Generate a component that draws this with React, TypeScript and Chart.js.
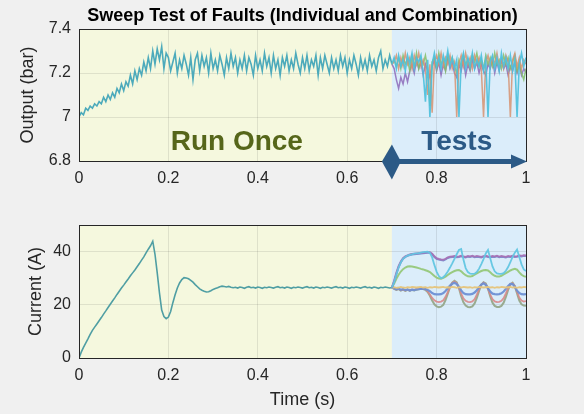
import React, { useEffect, useRef } from "react";
import { Chart, registerables } from "chart.js";
Chart.register(...registerables);

const TITLE = "Sweep Test of Faults (Individual and Combination)";
const X_LABEL = "Time (s)";
const TOP_Y_LABEL = "Output (bar)";
const BOTTOM_Y_LABEL = "Current (A)";
const RUN_ONCE_LABEL = "Run Once";
const TESTS_LABEL = "Tests";
const X_TICKS = [0, 0.2, 0.4, 0.6, 0.8, 1];
const TOP_Y_TICKS = [6.8, 7, 7.2, 7.4];
const BOTTOM_Y_TICKS = [0, 20, 40];
const SPLIT_TIME = 0.7;
const DT = 0.005;

// Output pressure, shared run from t = 0 to 0.7 s
const outputRunOnce = [
  7.00, 7.02, 7.01, 7.04, 7.03, 7.05, 7.04, 7.06, 7.05, 7.07, 7.06, 7.09, 7.07, 7.10, 7.08, 7.11, 7.09, 7.13, 7.11, 7.15,
  7.12, 7.16, 7.14, 7.19, 7.15, 7.21, 7.17, 7.22, 7.19, 7.25, 7.21, 7.27, 7.22, 7.30, 7.24, 7.31, 7.26, 7.32, 7.22, 7.29,
  7.27, 7.21, 7.25, 7.29, 7.20, 7.26, 7.22, 7.28, 7.24, 7.19, 7.27, 7.17, 7.26, 7.29, 7.21, 7.28, 7.23, 7.27, 7.20, 7.29,
  7.22, 7.26, 7.21, 7.28, 7.24, 7.19, 7.27, 7.22, 7.29, 7.23, 7.27, 7.20, 7.26, 7.22, 7.28, 7.21, 7.27, 7.24, 7.19, 7.28,
  7.22, 7.26, 7.21, 7.29, 7.23, 7.27, 7.20, 7.28, 7.22, 7.26, 7.19, 7.27, 7.23, 7.28, 7.21, 7.26, 7.22, 7.29, 7.24, 7.20,
  7.27, 7.22, 7.28, 7.21, 7.26, 7.23, 7.28, 7.19, 7.27, 7.22, 7.28, 7.24, 7.20, 7.27, 7.22, 7.26, 7.21, 7.28, 7.23, 7.27,
  7.20, 7.26, 7.22, 7.28, 7.24, 7.19, 7.27, 7.22, 7.26, 7.21, 7.28, 7.23, 7.26, 7.21, 7.27, 7.30, 7.22, 7.26, 7.23, 7.28,
  7.24,
];
// Output pressure during the fault tests, t = 0.705 .. 1.0 s
const outputTestCyan = [
  7.27, 7.22, 7.28, 7.23, 7.26, 7.21, 7.28, 7.24, 7.29, 7.22, 7.27, 7.25, 7.28, 7.20, 7.07, 7.26, 7.00, 7.24, 7.29, 7.23,
  7.27, 7.22, 7.28, 7.24, 7.30, 7.23, 7.27, 7.22, 7.26, 7.00, 7.25, 7.29, 7.22, 7.27, 7.23, 7.29, 7.22, 7.26, 7.23, 7.28,
  7.21, 7.26, 7.00, 7.25, 7.28, 7.22, 7.27, 7.21, 7.29, 7.23, 7.27, 7.22, 7.28, 7.21, 7.26, 7.00, 7.24, 7.29, 7.23, 7.27,
];
const outputTestOrange = [
  7.25, 7.28, 7.22, 7.27, 7.23, 7.29, 7.24, 7.27, 7.22, 7.28, 7.24, 7.29, 7.23, 7.26, 7.22, 7.10, 7.24, 7.02, 7.25, 7.28,
  7.24, 7.29, 7.23, 7.27, 7.24, 7.28, 7.22, 7.25, 7.00, 7.24, 7.28, 7.23, 7.29, 7.24, 7.27, 7.22, 7.28, 7.24, 7.27, 7.22,
  7.00, 7.25, 7.28, 7.23, 7.27, 7.24, 7.29, 7.23, 7.26, 7.22, 7.28, 7.25, 7.00, 7.26, 7.29, 7.23, 7.27, 7.22, 7.26, 7.24,
];
const outputTestPurple = [
  7.22, 7.17, 7.13, 7.18, 7.15, 7.20, 7.16, 7.21, 7.24, 7.20, 7.26, 7.22, 7.25, 7.19, 7.24, 7.21, 7.18, 7.23, 7.26, 7.21,
  7.25, 7.19, 7.24, 7.21, 7.27, 7.22, 7.25, 7.20, 7.18, 7.24, 7.21, 7.26, 7.19, 7.24, 7.21, 7.26, 7.22, 7.25, 7.20, 7.24,
  7.21, 7.19, 7.24, 7.22, 7.26, 7.20, 7.25, 7.21, 7.26, 7.22, 7.24, 7.19, 7.23, 7.21, 7.25, 7.20, 7.24, 7.19, 7.22, 7.20,
];
const outputTestGreen = [
  7.26, 7.23, 7.27, 7.22, 7.28, 7.24, 7.26, 7.21, 7.27, 7.23, 7.29, 7.22, 7.26, 7.24, 7.28, 7.22, 7.05, 7.25, 7.27, 7.22,
  7.29, 7.24, 7.26, 7.21, 7.28, 7.24, 7.27, 7.23, 7.20, 7.26, 7.23, 7.28, 7.24, 7.26, 7.22, 7.28, 7.25, 7.29, 7.23, 7.26,
  7.22, 7.28, 7.24, 7.27, 7.23, 7.29, 7.24, 7.26, 7.22, 7.28, 7.24, 7.27, 7.22, 7.25, 7.28, 7.21, 7.25, 7.20, 7.17, 7.22,
];

// Current, shared run from t = 0 to 0.7 s
const currentRunOnce = [
  0, 2.2, 4.0, 5.6, 7.2, 8.9, 10.4, 11.6, 12.8, 14.0, 15.2, 16.5, 17.7, 19.0, 20.2, 21.4, 22.6, 23.9, 25.1, 26.3,
  27.4, 28.6, 29.7, 30.9, 32.0, 33.1, 34.3, 35.5, 36.8, 38.0, 39.5, 40.9, 42.2, 43.9, 39.0, 32.0, 24.5, 18.0, 15.6, 14.8,
  15.4, 17.5, 20.8, 23.8, 26.3, 28.2, 29.5, 30.2, 30.1, 29.8, 29.2, 28.5, 27.6, 26.8, 26.0, 25.5, 25.1, 24.8, 24.9, 25.3,
  25.8, 26.1, 26.4, 26.8, 27.0, 26.9, 26.7, 26.9, 26.6, 26.4, 26.6, 26.3, 26.7, 26.5, 26.2, 26.6, 26.8, 26.4, 26.6, 26.3,
  26.7, 26.5, 26.2, 26.6, 26.4, 26.7, 26.5, 26.3, 26.6, 26.8, 26.4, 26.6, 26.3, 26.7, 26.5, 26.2, 26.6, 26.4, 26.7, 26.5,
  26.3, 26.6, 26.8, 26.4, 26.6, 26.3, 26.7, 26.5, 26.2, 26.6, 26.4, 26.7, 26.5, 26.3, 26.6, 26.8, 26.4, 26.6, 26.3, 26.7,
  26.5, 26.2, 26.6, 26.4, 26.7, 26.5, 26.3, 26.6, 26.8, 26.4, 26.6, 26.3, 26.7, 26.5, 26.2, 26.6, 26.4, 26.7, 26.5, 26.3,
  26.5,
];
// Current during the fault tests, t = 0.705 .. 1.0 s
const currentTestPurple = [
  29.0, 32.0, 34.5, 36.3, 37.5, 38.2, 38.6, 38.9, 39.1, 39.2, 39.3, 39.4, 39.5, 39.6, 39.7, 39.8, 39.8, 39.2, 38.2, 37.5,
  37.2, 37.0, 36.9, 37.3, 37.8, 38.1, 38.2, 38.3, 38.1, 38.2, 38.4, 38.2, 38.0, 38.3, 38.2, 38.4, 38.1, 38.3, 38.2, 38.0,
  38.3, 38.4, 38.2, 38.1, 38.3, 38.2, 38.4, 38.1, 38.3, 38.2, 38.0, 38.3, 38.2, 38.4, 38.2, 38.3, 38.5, 38.4, 38.6, 38.5,
];
const currentTestBlueHigh = [
  28.7, 31.6, 34.2, 36.0, 37.3, 38.0, 38.4, 38.7, 38.9, 39.0, 39.1, 39.2, 39.3, 39.4, 39.5, 39.6, 39.6, 39.0, 38.0, 37.3,
  37.0, 36.8, 36.7, 37.1, 37.6, 37.9, 38.0, 38.1, 37.9, 38.0, 38.2, 38.0, 37.8, 38.1, 38.0, 38.2, 37.9, 38.1, 38.0, 37.8,
  38.1, 38.2, 38.0, 37.9, 38.1, 38.0, 38.2, 37.9, 38.1, 38.0, 37.8, 38.1, 38.0, 38.2, 38.0, 38.1, 38.3, 38.2, 38.4, 38.3,
];
const currentTestCyan = [
  28.5, 31.5, 34.0, 36.0, 37.3, 38.0, 38.5, 38.8, 39.0, 39.2, 39.3, 39.4, 39.6, 39.8, 39.9, 40.0, 39.5, 37.8, 35.0, 32.5,
  30.8, 30.0, 30.4, 31.3, 32.5, 34.0, 35.6, 37.3, 39.0, 40.6, 41.0, 37.0, 33.8, 32.3, 31.7, 31.6, 31.7, 32.3, 33.6, 35.3,
  37.2, 39.3, 40.6, 37.5, 34.4, 32.6, 31.8, 31.6, 31.6, 31.9, 32.8, 34.2, 36.0, 38.0, 39.6, 40.8, 38.0, 35.2, 33.3, 32.7,
];
const currentTestGreen = [
  28.0, 29.8, 31.3, 32.5, 33.4, 34.0, 34.4, 34.5, 34.4, 34.2, 34.0, 33.8, 33.5, 33.3, 33.0, 32.7, 32.3, 31.6, 30.8, 30.2,
  29.9, 29.8, 30.1, 30.6, 31.2, 31.8, 32.3, 32.7, 33.0, 33.1, 32.6, 31.8, 31.1, 30.7, 30.6, 30.8, 31.3, 31.8, 32.3, 32.7,
  33.0, 33.1, 32.9, 32.2, 31.4, 30.9, 30.6, 30.6, 30.9, 31.4, 31.9, 32.4, 32.9, 33.3, 33.5, 33.2, 32.2, 31.3, 30.8, 30.5,
];
const currentTestYellow = [
  26.6, 26.4, 26.5, 26.7, 26.5, 26.4, 26.6, 26.5, 26.7, 26.6, 26.5, 26.6, 26.7, 26.5, 26.6, 26.4, 26.6, 26.5, 26.7, 26.6,
  26.5, 26.6, 26.7, 26.5, 26.6, 26.5, 26.7, 26.6, 26.4, 26.6, 26.5, 26.7, 26.6, 26.5, 26.6, 26.4, 26.6, 26.5, 26.7, 26.6,
  26.5, 26.6, 26.7, 26.5, 26.6, 26.4, 26.6, 26.5, 26.7, 26.6, 26.5, 26.6, 26.7, 26.5, 26.6, 26.4, 26.6, 26.5, 26.7, 26.6,
];
const currentTestBlueLow = [
  26.2, 25.8, 26.1, 25.6, 25.9, 25.5, 25.8, 25.4, 25.7, 25.5, 25.8, 25.9, 26.1, 26.0, 25.9, 25.6, 25.1, 24.4, 24.0, 23.9,
  23.9, 24.0, 24.4, 25.2, 26.2, 27.2, 27.9, 28.3, 27.8, 26.8, 25.4, 24.4, 24.0, 23.9, 23.9, 24.1, 24.6, 25.5, 26.6, 27.6,
  28.1, 27.5, 26.3, 25.0, 24.2, 24.0, 23.9, 24.0, 24.3, 25.0, 26.0, 27.1, 27.9, 27.8, 26.8, 25.3, 24.4, 24.0, 23.9, 24.0,
];
const currentTestRed = [
  26.1, 25.7, 26.0, 25.5, 25.8, 25.4, 25.7, 25.4, 25.7, 25.6, 25.9, 26.0, 26.2, 26.1, 25.8, 25.1, 23.9, 22.6, 21.7, 21.2,
  21.0, 21.2, 21.7, 23.0, 24.8, 26.8, 28.2, 28.7, 28.1, 26.4, 24.2, 22.4, 21.5, 21.1, 21.0, 21.3, 22.1, 23.8, 25.8, 27.6,
  28.3, 27.7, 26.0, 23.8, 22.1, 21.3, 21.0, 21.1, 21.5, 22.5, 24.3, 26.3, 27.8, 28.1, 27.0, 24.8, 22.7, 21.6, 21.2, 21.4,
];
const currentTestGray = [
  26.0, 25.6, 25.9, 25.3, 25.7, 25.2, 25.6, 25.3, 25.6, 25.4, 25.7, 25.8, 26.0, 25.9, 25.6, 24.8, 23.4, 21.6, 20.2, 19.4,
  19.1, 19.3, 20.0, 21.8, 24.2, 26.6, 28.3, 29.0, 28.4, 26.2, 23.2, 20.9, 19.7, 19.2, 19.1, 19.4, 20.5, 22.6, 25.2, 27.5,
  28.5, 28.0, 26.0, 23.1, 20.8, 19.6, 19.2, 19.2, 19.6, 20.8, 23.0, 25.6, 27.7, 28.3, 27.0, 24.3, 21.6, 20.2, 19.7, 19.6,
];

const FONT = "'Liberation Sans', Arial, Helvetica, sans-serif";
const TEXT = "#262626";
const W = 584;

function runPoints(values: number[]) {
  return values.map((v, i) => ({ x: i * DT, y: v }));
}
function testPoints(start: number, values: number[]) {
  const t0 = SPLIT_TIME;
  return [{ x: t0, y: start }, ...values.map((v, i) => ({ x: t0 + (i + 1) * DT, y: v }))];
}
function line(data: any[], color: string, width: number) {
  return { data, borderColor: color, borderWidth: width, pointRadius: 0, tension: 0, fill: false };
}

function makePlugin(kind: "top" | "bottom") {
  return {
    id: "deco-" + kind,
    beforeDraw(chart: any) {
      const { ctx, chartArea: a, scales } = chart;
      ctx.save();
      ctx.fillStyle = "#f0f0f0";
      ctx.fillRect(0, 0, chart.width, chart.height);
      const xs = scales.x.getPixelForValue(SPLIT_TIME);
      ctx.fillStyle = "#f5f8de";
      ctx.fillRect(a.left, a.top, xs - a.left, a.bottom - a.top);
      ctx.fillStyle = "#dbedfa";
      ctx.fillRect(xs, a.top, a.right - xs, a.bottom - a.top);
      ctx.restore();
    },
    afterDatasetsDraw(chart: any) {
      const { ctx, chartArea: a, scales } = chart;
      ctx.save();
      ctx.strokeStyle = TEXT;
      ctx.lineWidth = 1;
      ctx.strokeRect(Math.round(a.left) + 0.5, Math.round(a.top) + 0.5, Math.round(a.right - a.left), Math.round(a.bottom - a.top));
      const xs = scales.x.getPixelForValue(SPLIT_TIME);
      if (kind === "top") {
        ctx.font = `bold 28px ${FONT}`;
        ctx.textAlign = "center";
        ctx.textBaseline = "alphabetic";
        ctx.fillStyle = "#56661a";
        ctx.fillText(RUN_ONCE_LABEL, scales.x.getPixelForValue(0.353), a.bottom - 11);
        ctx.fillStyle = "#2c5a86";
        ctx.fillText(TESTS_LABEL, scales.x.getPixelForValue(0.845), a.bottom - 11);
        // double arrow
        const y = a.bottom + 0.5;
        ctx.fillStyle = "#2c5a86";
        ctx.beginPath();
        ctx.moveTo(xs - 10, y);
        ctx.lineTo(xs, y - 17);
        ctx.lineTo(xs + 9, y);
        ctx.lineTo(xs, y + 18);
        ctx.closePath();
        ctx.fill();
        ctx.fillRect(xs + 4, y - 2.5, a.right - xs - 18, 5);
        ctx.beginPath();
        ctx.moveTo(a.right - 15, y - 7);
        ctx.lineTo(a.right + 1, y);
        ctx.lineTo(a.right - 15, y + 7);
        ctx.closePath();
        ctx.fill();
      }
      ctx.restore();
    },
    afterDraw(chart: any) {
      const { ctx, chartArea: a } = chart;
      ctx.save();
      ctx.fillStyle = TEXT;
      const cx = (a.left + a.right) / 2;
      if (kind === "top") {
        ctx.font = `bold 18px ${FONT}`;
        ctx.textAlign = "center";
        ctx.textBaseline = "alphabetic";
        ctx.fillStyle = "#000";
        ctx.fillText(TITLE, cx, 21);
        ctx.fillStyle = TEXT;
        ctx.font = `18px ${FONT}`;
        ctx.translate(28, (a.top + a.bottom) / 2);
        ctx.rotate(-Math.PI / 2);
        ctx.textBaseline = "middle";
        ctx.fillText(TOP_Y_LABEL, 0, 0);
      } else {
        ctx.font = `18px ${FONT}`;
        ctx.textAlign = "center";
        ctx.textBaseline = "middle";
        ctx.fillText(X_LABEL, cx, 200);
        ctx.translate(36, (a.top + a.bottom) / 2);
        ctx.rotate(-Math.PI / 2);
        ctx.fillText(BOTTOM_Y_LABEL, 0, 0);
      }
      ctx.restore();
    },
  };
}

function scalesFor(yMin: number, yMax: number, yTicks: number[], xHeight: number) {
  return {
    x: {
      type: "linear",
      min: 0,
      max: 1,
      afterBuildTicks: (s: any) => { s.ticks = X_TICKS.map((v) => ({ value: v })); },
      afterFit: (s: any) => { s.height = xHeight; },
      ticks: { color: TEXT, font: { family: FONT, size: 16 }, padding: 8, maxRotation: 0, autoSkip: false, callback: (v: any) => String(v) },
      grid: { color: "rgba(0,0,0,0.09)", drawTicks: false },
      border: { display: false },
    },
    y: {
      type: "linear",
      min: yMin,
      max: yMax,
      afterBuildTicks: (s: any) => { s.ticks = yTicks.map((v) => ({ value: v })); },
      afterFit: (s: any) => { s.width = 79; },
      ticks: { color: TEXT, font: { family: FONT, size: 16 }, padding: 8, autoSkip: false, callback: (v: any) => String(v) },
      grid: { color: "rgba(0,0,0,0.09)", drawTicks: false },
      border: { display: false },
    },
  };
}

export default function App() {
  const topRef = useRef<HTMLCanvasElement>(null);
  const botRef = useRef<HTMLCanvasElement>(null);
  useEffect(() => {
    document.body.style.margin = "0";
    const topEnd = outputRunOnce[outputRunOnce.length - 1];
    const botEnd = currentRunOnce[currentRunOnce.length - 1];
    const top = new Chart(topRef.current as HTMLCanvasElement, {
      type: "line",
      data: {
        datasets: [
          line(testPoints(topEnd, outputTestCyan), "rgba(78,192,220,0.92)", 1.6),
          line(testPoints(topEnd, outputTestOrange), "rgba(214,146,112,0.85)", 1.5),
          line(testPoints(topEnd, outputTestGreen), "rgba(132,190,104,0.85)", 1.5),
          line(testPoints(topEnd, outputTestPurple), "rgba(140,104,184,0.85)", 1.5),
          line(runPoints(outputRunOnce), "#4caabb", 1.6),
        ] as any,
      },
      options: {
        animation: false,
        responsive: false,
        devicePixelRatio: 1,
        parsing: false as any,
        layout: { padding: { left: 0, right: 58, top: 29, bottom: 0 } },
        plugins: { legend: { display: false }, tooltip: { enabled: false }, title: { display: false } },
        scales: scalesFor(6.8, 7.4, TOP_Y_TICKS, 39) as any,
      },
      plugins: [makePlugin("top")],
    });
    const bottom = new Chart(botRef.current as HTMLCanvasElement, {
      type: "line",
      data: {
        datasets: [
          line(testPoints(botEnd, currentTestCyan), "rgba(98,198,226,0.95)", 1.8),
          line(testPoints(botEnd, currentTestPurple), "rgba(168,112,180,0.9)", 2),
          line(testPoints(botEnd, currentTestBlueHigh), "rgba(108,140,208,0.9)", 2),
          line(testPoints(botEnd, currentTestGreen), "rgba(150,200,122,0.95)", 2),
          line(testPoints(botEnd, currentTestYellow), "rgba(230,196,122,0.95)", 1.8),
          line(testPoints(botEnd, currentTestBlueLow), "rgba(110,144,212,0.95)", 2.2),
          line(testPoints(botEnd, currentTestRed), "rgba(216,136,136,0.9)", 1.8),
          line(testPoints(botEnd, currentTestGray), "rgba(150,168,138,0.95)", 2),
          line(runPoints(currentRunOnce), "#4f9ea3", 1.6),
        ] as any,
      },
      options: {
        animation: false,
        responsive: false,
        devicePixelRatio: 1,
        parsing: false as any,
        layout: { padding: { left: 0, right: 58, top: 25, bottom: 0 } },
        plugins: { legend: { display: false }, tooltip: { enabled: false }, title: { display: false } },
        scales: scalesFor(0, 50, BOTTOM_Y_TICKS, 56) as any,
      },
      plugins: [makePlugin("bottom")],
    });
    return () => { top.destroy(); bottom.destroy(); };
  }, []);
  return (
    <div style={{ position: "relative", width: W, height: 414, background: "#f0f0f0", overflow: "hidden" }}>
      <canvas ref={topRef} width={W} height={200} style={{ position: "absolute", left: 0, top: 0 }} />
      <canvas ref={botRef} width={W} height={214} style={{ position: "absolute", left: 0, top: 200 }} />
    </div>
  );
}
